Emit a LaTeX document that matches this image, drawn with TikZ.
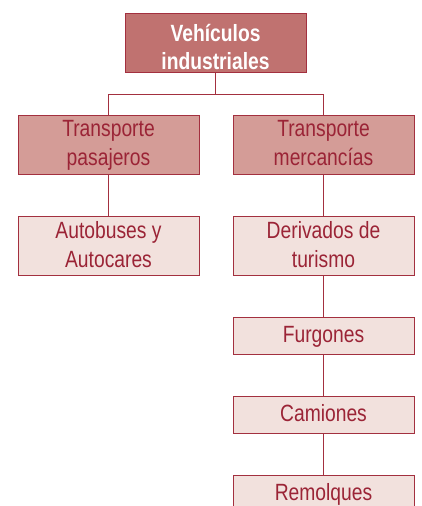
\documentclass[tikz,border=0pt]{standalone}
\usepackage{fontspec}
\setmainfont{Liberation Sans}[FakeStretch=0.82]
\definecolor{topfill}{HTML}{C07270}
\definecolor{midfill}{HTML}{D49C97}
\definecolor{lowfill}{HTML}{F2E1DD}
\definecolor{edge}{HTML}{A3303F}
\definecolor{txt}{HTML}{9B2436}
\newcommand\bxt[3]{\parbox[b][#1][t]{181pt}{\centering\rule{0pt}{#2}#3\par}}
\tikzset{
  box/.style={draw=edge, line width=0.9pt, minimum width=181pt, inner sep=0pt,
    font=\fontsize{23.5}{29}\selectfont, text=txt},
  topbox/.style={box, fill=topfill, minimum height=59pt, text=white,
    font=\fontsize{23.5}{28}\selectfont\bfseries},
  midbox/.style={box, fill=midfill, minimum height=59pt},
  lowbox/.style={box, fill=lowfill, minimum height=59pt},
  smallbox/.style={box, fill=lowfill, minimum height=37pt},
  link/.style={draw=edge, line width=0.9pt}
}
\begin{document}
\begin{tikzpicture}[x=1pt,y=-1pt]
\useasboundingbox (0,0) rectangle (421,506);
\clip (0,0) rectangle (421,506);
\node[topbox] (top) at (215.5,42.5) {\bxt{59pt}{28.5pt}{Vehículos\\industriales}};
\node[midbox] (tp) at (108.5,144.5) {\bxt{59pt}{21.5pt}{Transporte\\pasajeros}};
\node[midbox] (tm) at (323.5,144.5) {\bxt{59pt}{21.5pt}{Transporte\\mercancías}};
\node[lowbox] (aa) at (108.5,245.5) {\bxt{59pt}{22.5pt}{Autobuses y\\Autocares}};
\node[lowbox] (dt) at (323.5,245.5) {\bxt{59pt}{22.5pt}{Derivados de\\turismo}};
\node[smallbox] (fu) at (323.5,335.5) {\bxt{37pt}{25pt}{Furgones}};
\node[smallbox] (ca) at (323.5,414.5) {\bxt{37pt}{25pt}{Camiones}};
\node[smallbox] (re) at (323.5,493.5) {\bxt{37pt}{25pt}{Remolques}};
\coordinate (j) at (215.5,94);
\draw[link] (top.south) -- (j);
\draw[link] (j) -| (tp.north);
\draw[link] (j) -| (tm.north);
\draw[link] (tp) -- (aa);
\draw[link] (tm) -- (dt);
\draw[link] (dt) -- (fu);
\draw[link] (fu) -- (ca);
\draw[link] (ca) -- (re);
\end{tikzpicture}
\end{document}
